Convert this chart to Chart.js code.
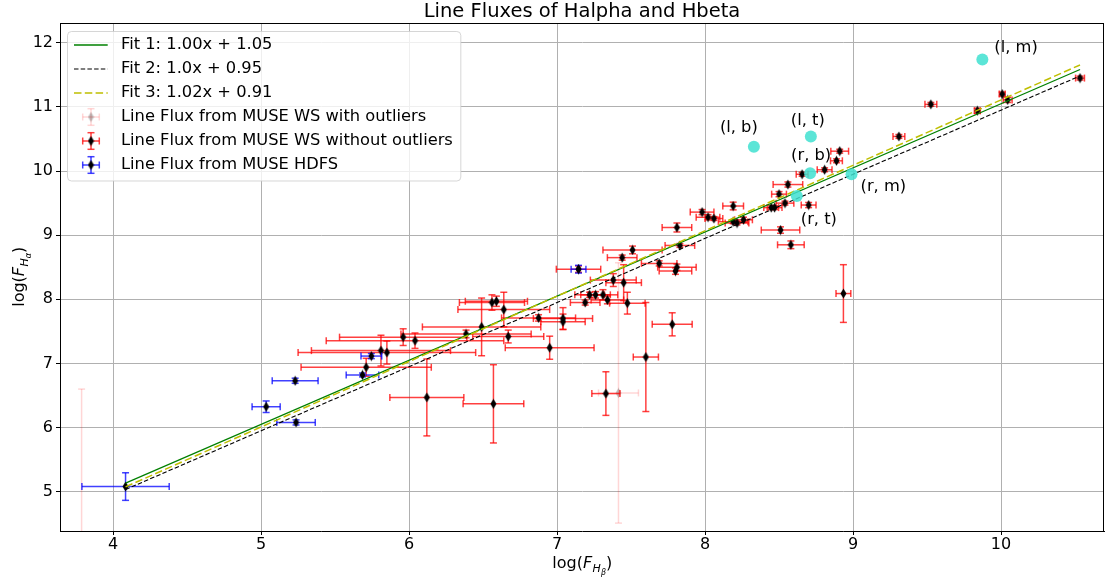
<!DOCTYPE html>
<html>
<head>
<meta charset="utf-8">
<title>Line Fluxes of Halpha and Hbeta</title>
<script src="https://cdn.jsdelivr.net/npm/chart.js@4.4.0/dist/chart.umd.min.js"></script>
<style>
  html, body { margin: 0; padding: 0; background: #fff; }
  #wrap { width: 1110px; height: 578px; }
</style>
</head>
<body>
<div id="wrap"><canvas id="fluxChart" width="1110" height="578"></canvas></div>
<script>
// MUSE WS line fluxes (log Hbeta, log Halpha) with symmetric errors
const wsX = [10.534, 10.008, 10.045, 9.84, 9.526, 9.31, 8.91, 8.888, 8.808, 8.656,
  8.56, 8.50, 8.70, 8.54, 8.47, 8.447, 8.51, 8.58, 8.19, 7.98,
  8.02, 8.06, 8.19, 8.216, 8.26, 7.81, 7.83, 7.51, 7.44, 7.69,
  7.81, 7.80, 7.38, 7.45, 7.31, 7.26, 7.22, 7.34, 7.19, 7.475,
  8.935, 7.778, 7.60, 7.33, 7.04, 7.04, 6.875, 6.95, 6.67, 6.64,
  6.59, 6.56, 6.49, 6.385, 6.12, 6.57, 6.04, 5.96, 5.85, 5.81,
  5.71, 7.145];
const wsY = [11.45, 11.20, 11.11, 10.94, 11.04, 10.54, 10.31, 10.16, 10.02, 9.95,
  9.79, 9.64, 9.47, 9.50, 9.43, 9.43, 9.08, 8.85, 9.455, 9.36,
  9.28, 9.26, 9.21, 9.19, 9.24, 9.12, 8.84, 8.77, 8.65, 8.56,
  8.50, 8.44, 8.30, 8.26, 8.07, 8.07, 8.07, 7.99, 7.95, 7.94,
  8.09, 7.61, 7.10, 6.53, 7.70, 7.65, 7.71, 7.245, 7.42, 7.84,
  7.97, 7.95, 7.57, 7.46, 6.47, 6.37, 7.355, 7.41, 7.17, 7.20,
  6.94, 8.47];
const wsXErr = [0.03, 0.02, 0.03, 0.02, 0.04, 0.04, 0.06, 0.04, 0.05, 0.04,
  0.10, 0.05, 0.05, 0.06, 0.05, 0.05, 0.13, 0.09, 0.07, 0.08,
  0.08, 0.06, 0.10, 0.08, 0.06, 0.10, 0.10, 0.20, 0.10, 0.12,
  0.13, 0.11, 0.155, 0.12, 0.10, 0.10, 0.10, 0.11, 0.10, 0.12,
  0.05, 0.135, 0.085, 0.095, 0.20, 0.15, 0.25, 0.30, 0.24, 0.31,
  0.21, 0.22, 0.40, 0.44, 0.25, 0.205, 0.60, 0.43, 0.60, 0.47,
  0.44, 0.15];
const wsYErr = [0.03, 0.03, 0.04, 0.04, 0.03, 0.03, 0.03, 0.03, 0.03, 0.03,
  0.04, 0.04, 0.04, 0.03, 0.03, 0.03, 0.05, 0.06, 0.06, 0.04,
  0.04, 0.03, 0.03, 0.03, 0.04, 0.07, 0.03, 0.06, 0.04, 0.04,
  0.05, 0.05, 0.10, 0.28, 0.08, 0.05, 0.04, 0.06, 0.04, 0.17,
  0.45, 0.18, 0.85, 0.34, 0.17, 0.12, 0.05, 0.18, 0.10, 0.27,
  0.08, 0.12, 0.45, 0.06, 0.60, 0.61, 0.12, 0.13, 0.18, 0.24,
  0.14, 0.05];

// points that only appear in the sample with outliers
const outX = [3.787, 7.415];
const outY = [4.2, 6.54];
const outXErr = [0, 0.135];
const outYErr = [2.4, 2.03];

// MUSE HDFS line fluxes
const hdfsX = [4.084, 5.034, 5.23, 5.236, 5.685, 5.745, 7.145];
const hdfsY = [5.08, 6.325, 6.73, 6.08, 6.82, 7.115, 8.47];
const hdfsXErr = [0.295, 0.095, 0.155, 0.13, 0.11, 0.07, 0.05];
const hdfsYErr = [0.215, 0.09, 0.04, 0.04, 0.03, 0.04, 0.06];

// named regions
const regionNames = ['(l, m)', '(r, m)', '(l, b)', '(l, t)', '(r, b)', '(r, t)'];
const regionX = [9.874, 8.99, 8.33, 8.715, 8.71, 8.62];
const regionY = [11.74, 9.95, 10.38, 10.54, 9.965, 9.61];

// linear fits
const fitLabels = ['Fit 1: 1.00x + 1.05', 'Fit 2: 1.0x + 0.95', 'Fit 3: 1.02x + 0.91'];
const fitSlopes = [1.00, 1.0, 1.02];
const fitIntercepts = [1.05, 0.95, 0.91];

const seriesLabels = ['Line Flux from MUSE WS with outliers',
  'Line Flux from MUSE WS without outliers', 'Line Flux from MUSE HDFS'];

const xTicks = [4, 5, 6, 7, 8, 9, 10];
const yTicks = [5, 6, 7, 8, 9, 10, 11, 12];

const FONT = 'DejaVu Sans';
const TEXT_FONT = '16.3px "' + FONT + '"';
Chart.defaults.font.family = FONT;

// annotation offsets in px (label left / middle relative to the point)
const labelOffsets = [[12, -12], [9, 13], [-34, -19], [-20, -16], [-19, -18], [4, 24]];

function toPoints(xs, ys) {
  return xs.map((x, i) => ({ x, y: ys[i] }));
}

// small thin diamond used as marker
function thinDiamond(color) {
  const c = document.createElement('canvas');
  c.width = 7; c.height = 11;
  const g = c.getContext('2d');
  g.fillStyle = color;
  g.beginPath();
  g.moveTo(3.5, 0.6); g.lineTo(6.5, 5.5); g.lineTo(3.5, 10.4); g.lineTo(0.5, 5.5);
  g.closePath();
  g.fill();
  return c;
}
const blackDiamond = thinDiamond('#000');
const greyDiamond = thinDiamond('rgba(0,0,0,0.25)');

const allX = wsX.concat(hdfsX);
const fitX0 = Math.min(...allX), fitX1 = Math.max(...allX);

const fitStyles = [
  { color: 'green', width: 1.3, dash: [] },
  { color: '#000', width: 1.1, dash: [4.5, 2.2] },
  { color: '#bfbf00', width: 1.5, dash: [7.5, 3.3] }
];

function fitDataset(k) {
  return {
    type: 'line',
    label: fitLabels[k],
    data: [fitX0, fitX1].map(x => ({ x, y: fitSlopes[k] * x + fitIntercepts[k] })),
    borderColor: fitStyles[k].color,
    borderWidth: fitStyles[k].width,
    borderDash: fitStyles[k].dash,
    pointRadius: 0,
    fill: false,
    clip: 0
  };
}

const ERR_RED = 'rgba(255,0,0,0.75)';
const ERR_BLUE = 'rgba(0,0,255,0.75)';
const ERR_PINK = 'rgba(255,0,0,0.16)';

// dataset 0 is drawn on top
const datasets = [
  {
    label: 'regions',
    data: toPoints(regionX, regionY),
    backgroundColor: 'rgba(64,224,208,0.85)',
    borderWidth: 0,
    pointRadius: 6,
    clip: 0
  },
  fitDataset(2),
  fitDataset(1),
  fitDataset(0),
  {
    label: seriesLabels[2],
    data: toPoints(hdfsX, hdfsY),
    errX: hdfsXErr, errY: hdfsYErr, errColor: ERR_BLUE,
    pointStyle: blackDiamond,
    clip: 0
  },
  {
    label: seriesLabels[1],
    data: toPoints(wsX, wsY),
    errX: wsXErr, errY: wsYErr, errColor: ERR_RED,
    pointStyle: blackDiamond,
    clip: 0
  },
  {
    label: seriesLabels[0],
    data: toPoints(outX, outY),
    errX: outXErr, errY: outYErr, errColor: ERR_PINK,
    pointStyle: greyDiamond,
    clip: 0
  }
];

function seg(ctx, x0, y0, x1, y1) {
  ctx.beginPath();
  ctx.moveTo(x0, y0);
  ctx.lineTo(x1, y1);
  ctx.stroke();
}

function drawErrorGlyph(ctx, cx, cy, hx, hy, color, cap) {
  ctx.strokeStyle = color;
  if (hx > 0) {
    seg(ctx, cx - hx, cy, cx + hx, cy);
    seg(ctx, cx - hx, cy - cap, cx - hx, cy + cap);
    seg(ctx, cx + hx, cy - cap, cx + hx, cy + cap);
  }
  if (hy > 0) {
    seg(ctx, cx, cy - hy, cx, cy + hy);
    seg(ctx, cx - cap, cy - hy, cx + cap, cy - hy);
    seg(ctx, cx - cap, cy + hy, cx + cap, cy + hy);
  }
}

// error bars go right under each dataset's markers
const errorBars = {
  id: 'errorBars',
  beforeDatasetDraw(chart, args) {
    const ds = chart.data.datasets[args.index];
    if (!ds.errX) return;
    const { ctx, chartArea: a, scales: { x, y } } = chart;
    const cap = 3.5;
    ctx.save();
    ctx.beginPath();
    ctx.rect(a.left, a.top, a.right - a.left, a.bottom - a.top);
    ctx.clip();
    ctx.lineWidth = 1.5;
    ctx.strokeStyle = ds.errColor;
    ds.data.forEach((p, i) => {
      const px = x.getPixelForValue(p.x), py = y.getPixelForValue(p.y);
      const ex = ds.errX[i], ey = ds.errY[i];
      if (ex > 0) {
        const x0 = x.getPixelForValue(p.x - ex), x1 = x.getPixelForValue(p.x + ex);
        seg(ctx, x0, py, x1, py);
        seg(ctx, x0, py - cap, x0, py + cap);
        seg(ctx, x1, py - cap, x1, py + cap);
      }
      if (ey > 0) {
        const y0 = y.getPixelForValue(p.y - ey), y1 = y.getPixelForValue(p.y + ey);
        seg(ctx, px, y0, px, y1);
        seg(ctx, px - cap, y0, px + cap, y0);
        seg(ctx, px - cap, y1, px + cap, y1);
      }
    });
    ctx.restore();
  }
};

// log(F_{H_sub}) with nested subscripts
function drawFluxLabel(ctx, x, y, sub, rotate) {
  const parts = [
    { t: 'log(', f: '16px "' + FONT + '"', dy: 0 },
    { t: 'F', f: 'italic 16px "' + FONT + '"', dy: 0 },
    { t: 'H', f: 'italic 11px "' + FONT + '"', dy: 3.5 },
    { t: sub, f: 'italic 8px "' + FONT + '"', dy: 6.5 },
    { t: ')', f: '16px "' + FONT + '"', dy: 0 }
  ];
  let w = 0;
  parts.forEach(p => { ctx.font = p.f; p.w = ctx.measureText(p.t).width; w += p.w; });
  ctx.save();
  ctx.translate(x, y);
  if (rotate) ctx.rotate(-Math.PI / 2);
  ctx.fillStyle = '#000';
  ctx.textBaseline = 'alphabetic';
  ctx.textAlign = 'left';
  let cx = -w / 2;
  parts.forEach(p => {
    ctx.font = p.f;
    ctx.fillText(p.t, cx, p.dy);
    cx += p.w + (p.t === 'F' ? 0.5 : 0);
  });
  ctx.restore();
}

const decorations = {
  id: 'decorations',
  afterDatasetsDraw(chart) {
    const { ctx, scales: { x, y } } = chart;
    ctx.save();
    ctx.font = TEXT_FONT;
    ctx.fillStyle = '#000';
    ctx.textBaseline = 'middle';
    ctx.textAlign = 'left';
    regionNames.forEach((name, i) => {
      const px = x.getPixelForValue(regionX[i]), py = y.getPixelForValue(regionY[i]);
      ctx.fillText(name, px + labelOffsets[i][0], py + labelOffsets[i][1]);
    });
    ctx.restore();
  },
  afterDraw(chart) {
    const { ctx, chartArea: a } = chart;
    ctx.save();
    // top and right spines
    ctx.strokeStyle = '#000';
    ctx.lineWidth = 1;
    seg(ctx, Math.round(a.left), Math.round(a.top) + 0.5, Math.round(a.right), Math.round(a.top) + 0.5);
    seg(ctx, Math.round(a.right) - 0.5, Math.round(a.top), Math.round(a.right) - 0.5, Math.round(a.bottom));

    // axis titles
    drawFluxLabel(ctx, (a.left + a.right) / 2, 568, 'β', false);
    drawFluxLabel(ctx, 24, (a.top + a.bottom) / 2, 'α', true);

    // legend
    const rows = [
      { kind: 'line', k: 0, text: fitLabels[0] },
      { kind: 'line', k: 1, text: fitLabels[1] },
      { kind: 'line', k: 2, text: fitLabels[2] },
      { kind: 'err', color: ERR_PINK, marker: greyDiamond, text: seriesLabels[0] },
      { kind: 'err', color: ERR_RED, marker: blackDiamond, text: seriesLabels[1] },
      { kind: 'err', color: ERR_BLUE, marker: blackDiamond, text: seriesLabels[2] }
    ];
    ctx.font = TEXT_FONT;
    const textX = 121;
    const maxW = Math.max(...rows.map(r => ctx.measureText(r.text).width));
    const bx = 67.5, by = 31.5, bw = textX + maxW + 8 - bx, bh = 149.5;
    ctx.beginPath();
    ctx.roundRect(bx, by, bw, bh, 4);
    ctx.fillStyle = 'rgba(255,255,255,0.8)';
    ctx.fill();
    ctx.strokeStyle = 'rgba(204,204,204,0.8)';
    ctx.lineWidth = 1;
    ctx.stroke();
    rows.forEach((r, i) => {
      const cy = 45 + i * 24;
      if (r.kind === 'line') {
        const s = fitStyles[r.k];
        ctx.strokeStyle = s.color;
        ctx.lineWidth = s.width;
        ctx.setLineDash(s.dash);
        seg(ctx, 74, cy, 107.7, cy);
        ctx.setLineDash([]);
      } else {
        ctx.lineWidth = 1.5;
        drawErrorGlyph(ctx, 91, cy, 8.3, 8.3, r.color, 3.5);
        ctx.drawImage(r.marker, 91 - 3.5, cy - 5.5);
      }
      ctx.fillStyle = '#000';
      ctx.textBaseline = 'middle';
      ctx.fillText(r.text, textX, cy);
    });
    ctx.restore();
  }
};

const chart = new Chart(document.getElementById('fluxChart'), {
  type: 'scatter',
  data: { datasets },
  plugins: [errorBars, decorations],
  options: {
    responsive: false,
    animation: false,
    events: [],
    layout: { padding: { top: 0, right: 3, bottom: 0, left: 0 } },
    plugins: {
      legend: { display: false },
      tooltip: { enabled: false },
      title: {
        display: true,
        text: 'Line Fluxes of Halpha and Hbeta',
        color: '#000',
        fullSize: false,
        font: { family: FONT, size: 19.5, weight: 'normal', lineHeight: 1.1 },
        padding: { top: 1.5, bottom: 0.05 }
      }
    },
    scales: {
      x: {
        type: 'linear',
        min: 3.641,
        max: 10.696,
        afterBuildTicks: s => { s.ticks = xTicks.map(v => ({ value: v })); },
        afterFit: s => { s.height = 47; },
        grid: { color: '#b0b0b0', lineWidth: 1, tickLength: 4, tickColor: '#000' },
        border: { color: '#000', width: 1 },
        ticks: { color: '#000', font: { size: 16 }, padding: 0, maxRotation: 0 }
      },
      y: {
        type: 'linear',
        min: 4.387,
        max: 12.309,
        afterBuildTicks: s => { s.ticks = yTicks.map(v => ({ value: v })); },
        afterFit: s => { s.width = 60; },
        grid: { color: '#b0b0b0', lineWidth: 1, tickLength: 4, tickColor: '#000' },
        border: { color: '#000', width: 1 },
        ticks: { color: '#000', font: { size: 16 }, padding: 3 }
      }
    }
  }
});
</script>
</body>
</html>
